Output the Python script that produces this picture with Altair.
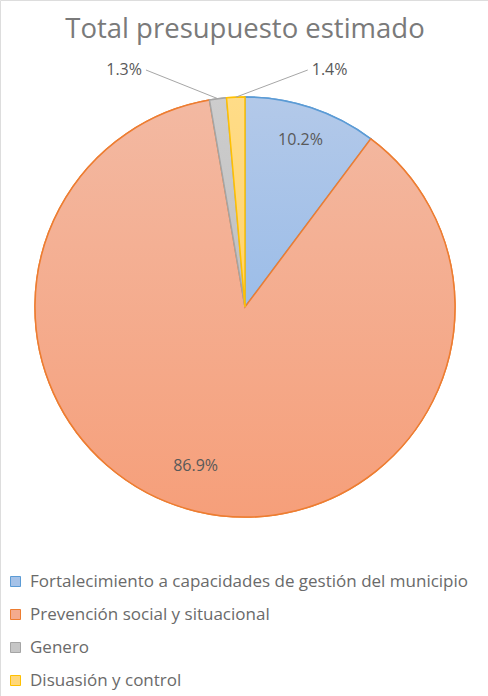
import altair as alt
import pandas as pd

categories = [
    "Fortalecimiento a capacidades de gestión del municipio",
    "Prevención social y situacional",
    "Genero",
    "Disuasión y control",
]
values = [10.2, 86.9, 1.3, 1.4]
labels = ["10.2%", "86.9%", "1.3%", "1.4%"]

fill_mid = ["#a5c2e8", "#f4ab8e", "#c6c6c6", "#ffd77a"]
fill_top = ["#b3c9e9", "#f3b9a2", "#cdcdcd", "#ffdc88"]
fill_bot = ["#9cbde8", "#f69f7a", "#c0c0c0", "#ffd36c"]
strokes = ["#5b9bd5", "#ed7d31", "#a5a5a5", "#ffc000"]

df = pd.DataFrame({"cat": categories, "value": values, "label": labels})

W, H = 488, 696
CX, CY, R = 245, 307, 210
TOTAL = sum(values)
FONT = "Open Sans"
TXT = "#595959"

base = (
    alt.Chart(df)
    .transform_window(end="sum(value)", idx="row_number()", frame=[None, 0])
    .transform_calculate(
        start="datum.end - datum.value",
        mid=f"(datum.end - datum.value / 2) / {TOTAL} * 2 * PI",
    )
)

theta_scale = alt.Scale(domain=[0, TOTAL])

legend = alt.Legend(
    orient="none",
    legendX=7,
    legendY=573,
    direction="vertical",
    title=None,
    symbolType="square",
    symbolSize=100,
    symbolStrokeWidth=1,
    labelFont=FONT,
    labelFontSize=17,
    labelColor="#6a6a6a",
    labelLimit=0,
    labelOffset=6,
    rowPadding=15,
    padding=0,
)

pie_base = base.mark_arc(outerRadius=R, strokeWidth=1.5).encode(
    x=alt.value(CX),
    y=alt.value(CY),
    theta=alt.Theta("start:Q", scale=theta_scale),
    theta2="end:Q",
    fill=alt.Fill("cat:N", scale=alt.Scale(domain=categories, range=fill_mid), legend=legend, sort=categories),
    stroke=alt.Stroke("cat:N", scale=alt.Scale(domain=categories, range=strokes), legend=legend, sort=categories),
)

overlays = []
for i, c in enumerate(categories):
    grad = alt.LinearGradient(
        gradient="linear",
        x1=0, y1=0, x2=0, y2=1,
        stops=[
            alt.GradientStop(color=fill_top[i], offset=0),
            alt.GradientStop(color=fill_bot[i], offset=1),
        ],
    )
    overlays.append(
        base.transform_filter(alt.datum.cat == c)
        .mark_arc(outerRadius=R, fill=grad, stroke=strokes[i], strokeWidth=1.5)
        .encode(
            x=alt.value(CX),
            y=alt.value(CY),
            theta=alt.Theta("start:Q", scale=theta_scale),
            theta2="end:Q",
        )
    )

inside = (
    base.transform_filter(alt.datum.value >= 5)
    .transform_calculate(rin="datum.value > 50 ? 164 : 176")
    .transform_calculate(
        px=f"{CX} + datum.rin * sin(datum.mid) - (datum.value > 50 ? 11 : 0)",
        py=f"{CY} - datum.rin * cos(datum.mid)",
    )
    .mark_text(font=FONT, fontSize=16, color=TXT)
    .encode(
        x=alt.X("px:Q", scale=None),
        y=alt.Y("py:Q", scale=None),
        text="label:N",
    )
)

outside_base = base.transform_filter(alt.datum.value < 5).transform_calculate(
    side="datum.idx % 2 == 0 ? 1 : -1",
    ex=f"{CX} + {R} * sin(datum.mid)",
    ey=f"{CY} - {R} * cos(datum.mid)",
).transform_calculate(
    lx="datum.ex + datum.side * 72",
    ly=f"{CY - R - 27}",
    tx="datum.lx + datum.side * 4",
)

leaders = outside_base.mark_rule(color="#a6a6a6", strokeWidth=1).encode(
    x=alt.X("ex:Q", scale=None),
    y=alt.Y("ey:Q", scale=None),
    x2="lx:Q",
    y2="ly:Q",
)

out_left = (
    outside_base.transform_filter("datum.side < 0")
    .mark_text(font=FONT, fontSize=16, color=TXT, align="right")
    .encode(x=alt.X("tx:Q", scale=None), y=alt.Y("ly:Q", scale=None), text="label:N")
)
out_right = (
    outside_base.transform_filter("datum.side > 0")
    .mark_text(font=FONT, fontSize=16, color=TXT, align="left")
    .encode(x=alt.X("tx:Q", scale=None), y=alt.Y("ly:Q", scale=None), text="label:N")
)

title = (
    alt.Chart(pd.DataFrame({"t": ["Total presupuesto estimado"]}))
    .mark_text(font=FONT, fontSize=27.5, color="#7a7a7a", baseline="middle")
    .encode(x=alt.value(CX), y=alt.value(30), text="t:N")
)

chart = (
    alt.layer(pie_base, *overlays, leaders, inside, out_left, out_right, title)
    .properties(width=W, height=H, autosize=alt.AutoSizeParams(type="none"), padding=0)
    .configure_view(stroke=None)
    .configure(background="white")
)

chart.save("out.html", embed_options={"renderer": "svg", "actions": False})
